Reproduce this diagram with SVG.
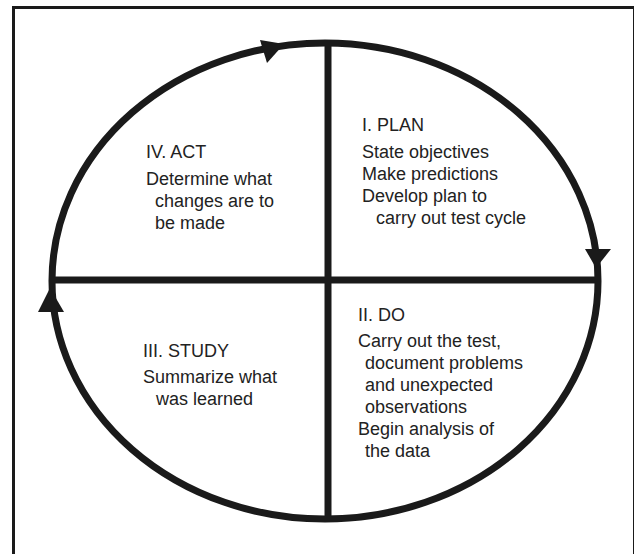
<svg xmlns="http://www.w3.org/2000/svg" width="634" height="554" viewBox="0 0 634 554">
<style>
.t{font-family:"Liberation Sans",Arial,sans-serif;font-size:18px;fill:#222}
.ln{stroke:#1a1a1a;stroke-width:7;fill:none}
.ah{fill:#1a1a1a}
</style>
<rect x="0" y="0" width="634" height="554" fill="#fff"/>
<rect x="13.5" y="7.5" width="621" height="560" fill="none" stroke="#1a1a1a" stroke-width="3"/>
<g id="connectors">
<ellipse class="ln" cx="325" cy="281" rx="273" ry="238"/>
<line class="ln" x1="328" y1="44" x2="328" y2="519"/>
<line class="ln" x1="52" y1="280" x2="598" y2="280"/>
<polygon class="ah" points="260,40 267,63 284,44"/>
<polygon class="ah" points="585,249 611,249 596,268"/>
<polygon class="ah" points="38,312 64,312 50,288"/>
</g>
<g id="act">
<text class="t" x="146" y="158">IV. ACT</text>
<text class="t" x="146" y="185">Determine what</text>
<text class="t" x="155" y="207">changes are to</text>
<text class="t" x="155" y="229">be made</text>
</g>
<g id="plan">
<text class="t" x="362" y="131">I. PLAN</text>
<text class="t" x="362" y="158">State objectives</text>
<text class="t" x="362" y="180">Make predictions</text>
<text class="t" x="362" y="202">Develop plan to</text>
<text class="t" x="376" y="224">carry out test cycle</text>
</g>
<g id="study">
<text class="t" x="143" y="357">III. STUDY</text>
<text class="t" x="143" y="383">Summarize what</text>
<text class="t" x="156" y="405">was learned</text>
</g>
<g id="do">
<text class="t" x="358" y="321">II. DO</text>
<text class="t" x="358" y="347">Carry out the test,</text>
<text class="t" x="365" y="369">document problems</text>
<text class="t" x="365" y="391">and unexpected</text>
<text class="t" x="365" y="413">observations</text>
<text class="t" x="358" y="435">Begin analysis of</text>
<text class="t" x="365" y="457">the data</text>
</g>
</svg>
